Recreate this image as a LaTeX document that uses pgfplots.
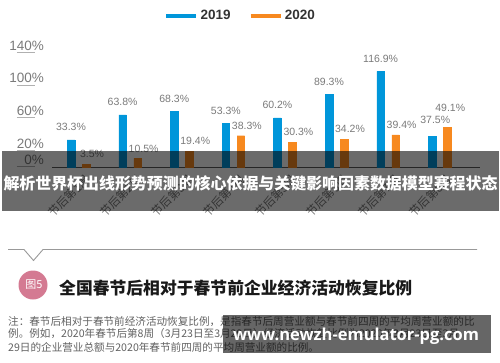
\documentclass[border=0pt]{standalone}
\usepackage{pgfplots}
\pgfplotsset{compat=1.18}
\usepackage{fontspec}
\setmainfont{Liberation Sans}
\newfontfamily\cjk{Noto Sans CJK SC}
\newfontfamily\wmfont{Open Sans}
\definecolor{c2019}{HTML}{0096DA}
\definecolor{c2020}{HTML}{F7891F}
\definecolor{tickgray}{HTML}{7A7A7A}
\definecolor{stubgray}{HTML}{B0B0B0}
\definecolor{pinkc}{HTML}{D47A92}
\newcommand{\stub}{\makebox[0pt][r]{\smash{\raisebox{-2.5pt}{\textcolor{stubgray}{\rule{18pt}{0.9pt}}}}\hspace{9pt}}}
\begin{document}
\begin{tikzpicture}[x=1pt,y=1pt]
\begin{axis}[
  at={(52pt,195pt)}, anchor=south west,
  scale only axis, width=428pt, height=114.4pt,
  xmin=-0.514, xmax=7.781, ymin=0, ymax=140,
  ybar, bar width=7.6pt,
  separate axis lines,
  axis x line*=bottom, axis y line*=left,
  x axis line style={draw=black!65, line width=0.8pt},
  y axis line style={draw=none},
  xtick={0,...,7},
  xticklabels={节后第1周,节后第2周,节后第3周,节后第4周,节后第5周,节后第6周,节后第7周,节后第8周},
  xtick style={draw=none},
  x tick label style={font=\cjk\fontsize{11.5}{12}\selectfont, text=tickgray, rotate=45, anchor=east, inner sep=0pt, yshift=-11pt, xshift=2pt},
  ytick={0,20,60,100,140},
  yticklabels={0\%\stub,20\%\stub,60\%\stub,100\%\stub,140\%\stub},
  ytick style={draw=none},
  y tick label style={font=\fontsize{13.5}{14}\selectfont, text=tickgray, anchor=south east, inner sep=0pt, xshift=-8pt, yshift=2pt},
  /pgf/number format/assume math mode=true,
  nodes near coords={\pgfmathprintnumber[fixed,precision=1,fixed zerofill]{\pgfplotspointmeta}\%},
  every node near coord/.append style={font=\fontsize{10.5}{11}\selectfont, text=tickgray, anchor=center},
  legend style={at={(0.2617,1.32)}, anchor=west, draw=none, fill=none, legend columns=2, inner sep=0pt,
    font=\bfseries\fontsize{13.5}{14}\selectfont, text=black!80,
    /tikz/every even column/.append style={column sep=16pt}},
  clip=false,
]
\addplot[draw=c2019, fill=c2019, bar shift=-7.5pt,
  legend image code/.code={\draw[c2019, line width=4.3pt] (0pt,0pt) -- (30pt,0pt);},
  every node near coord/.append style={yshift=12.5pt, xshift=0pt}]
  coordinates {(0,33.3) (1,63.8) (2,68.3) (3,53.3) (4,60.2) (5,89.3) (6,116.9)};
\addlegendentry{2019}
\addplot[draw=c2020, fill=c2020, bar shift=7.5pt,
  legend image code/.code={\draw[c2020, line width=4.3pt] (0pt,0pt) -- (30pt,0pt);},
  every node near coord/.append style={yshift=10pt, xshift=6pt}]
  coordinates {(0,3.5) (1,10.5) (2,19.4) (3,38.3) (4,30.3) (5,34.2) (6,39.4)};
\addlegendentry{2020}
\addplot[forget plot, draw=c2019, fill=c2019, bar shift=-7.5pt,
  every node near coord/.append style={yshift=16pt, xshift=3pt}]
  coordinates {(7,37.5)};
\addplot[forget plot, draw=c2020, fill=c2020, bar shift=7.5pt,
  every node near coord/.append style={yshift=19pt, xshift=3pt}]
  coordinates {(7,49.1)};
\end{axis}
% overlay banner
\fill[black, opacity=0.58] (2,151) rectangle (499,211);
\node[text=white, inner sep=0pt] at (250.5,179) {\resizebox{494pt}{!}{\cjk\bfseries 解析世界杯出线形势预测的核心依据与关键影响因素数据模型赛程状态}};
% separator with notch
\draw[black!40, line width=0.9pt] (8,112.5) -- (24,112.5) -- (33.5,101.5) -- (43,112.5) -- (477,112.5);
% figure badge and title
\fill[pinkc] (33,77) circle (14.5);
\node[text=white, inner sep=0pt] at (34,77) {\cjk\fontsize{11}{12}\selectfont 图5};
\node[anchor=west, inner sep=0pt, text=black!90] at (59,74) {\resizebox{353pt}{!}{\cjk\bfseries 全国春节后相对于春节前企业经济活动恢复比例}};
% note
\begin{scope}[every node/.style={anchor=west, inner sep=0pt, text=black!62, font=\cjk\fontsize{10.6}{11}\selectfont}]
\node at (8,40) {注：春节后相对于春节前经济活动恢复比例，是指春节后周营业额与春节前四周的平均周营业额的比};
\node at (8,28) {例。例如，2020年春节后第8周（3月23日至3月29日）经济活动恢复比例为2020年3月23日至3月};
\node at (8,15) {29日的企业营业总额与2020年春节前四周的平均周营业额的比例。};
\end{scope}
% watermark
\fill[black, opacity=0.6] (223,9) rectangle (491,47);
\node[text=white, inner sep=0pt] at (356,26) {\resizebox{246pt}{!}{\wmfont\bfseries www.newzh-emulator-pg.com}};
\pgfresetboundingbox
\useasboundingbox (0,0) rectangle (500,362);
\end{tikzpicture}
\end{document}
